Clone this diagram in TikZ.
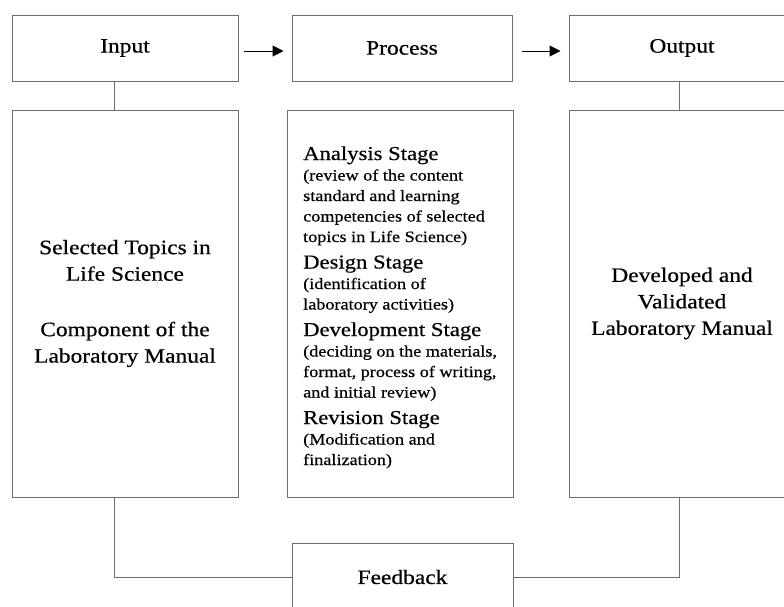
\documentclass[tikz,border=0pt]{standalone}
\usepackage{fontspec}
\setmainfont{Liberation Serif}[FakeStretch=1.15,FakeBold=0.5]
\usetikzlibrary{arrows.meta}
\definecolor{boxgray}{HTML}{6E6E6E}
\newcommand\lblfont{\fontsize{20.4}{26.5}\selectfont}
\newcommand\stagehd{\fontsize{19.7}{26.5}\selectfont}
\newcommand\stagesm{\fontsize{15.8}{20.5}\selectfont}
\begin{document}
\begin{tikzpicture}[x=1pt,y=-1pt,
  box/.style={draw=boxgray, line width=1pt, rectangle, inner sep=0pt, align=center, font=\lblfont},
  link/.style={draw=boxgray, line width=1pt},
  arr/.style={draw=black, line width=1pt, -{Triangle[length=11pt,width=11pt]}}]
\clip (0,0) rectangle (784,606);
\useasboundingbox (0,0) rectangle (784,606);
\fill[white] (0,0) rectangle (784,606);
% top row
\node[box, minimum width=226pt, minimum height=66pt] (in) at (125,48) {Input};
\node[box, minimum width=220pt, minimum height=66pt] (pr) at (402,48) {Process};
\node[box, minimum width=226pt, minimum height=66pt] (out) at (682,48) {Output};
% big boxes
\node[box, minimum width=226pt, minimum height=387pt] (lbig) at (125,303.5)
  {Selected Topics in\\Life Science\\[29pt]Component of the\\Laboratory Manual};
\node[box, minimum width=226pt, minimum height=387pt] (mbig) at (400,303.5) {};
\node[box, minimum width=226pt, minimum height=387pt] (rbig) at (682,303.5)
  {Developed and\\Validated\\Laboratory Manual};
% feedback
\node[box, minimum width=221pt, minimum height=68pt] (fb) at (402.5,577) {Feedback};
% process stages text
\node[anchor=base west, inner sep=0pt] (mtext) at (303,160) {\parbox[t]{212pt}{%
  \setlength{\parindent}{0pt}\setlength{\parskip}{0pt}\raggedright
  \stagehd Analysis Stage\par
  \stagesm (review of the content\par standard and learning\par competencies of selected\par topics in Life Science)\par
  \stagehd Design Stage\par
  \stagesm (identification of\par laboratory activities)\par
  \stagehd Development Stage\par
  \stagesm (deciding on the materials,\par format, process of writing,\par and initial review)\par
  \stagehd Revision Stage\par
  \stagesm (Modification and\par finalization)\par}};
% arrows
\draw[arr] ([xshift=5pt,yshift=-3pt]in.east) -- ([xshift=-8pt,yshift=-3pt]pr.west);
\draw[arr] ([xshift=9pt,yshift=-3pt]pr.east) -- ([xshift=-8pt,yshift=-3pt]out.west);
% connectors
\draw[link] ([xshift=-11pt]in.south) -- ([xshift=-11pt]lbig.north);
\draw[link] ([xshift=-3pt]out.south) -- ([xshift=-3pt]rbig.north);
\draw[link] ([xshift=-11pt]lbig.south) |- (fb.west);
\draw[link] ([xshift=-3pt]rbig.south) |- (fb.east);
\end{tikzpicture}
\end{document}
